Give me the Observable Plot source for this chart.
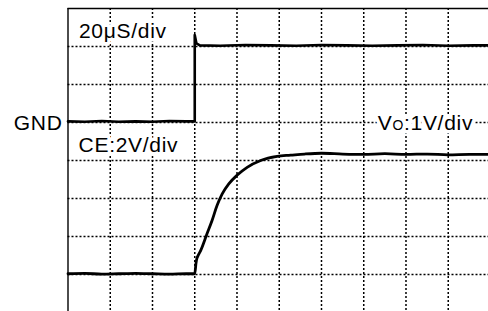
<!DOCTYPE html>
<html><head><meta charset="utf-8">
<script src="https://cdn.jsdelivr.net/npm/d3@7"></script>
<script src="https://cdn.jsdelivr.net/npm/@observablehq/plot@0.6"></script>
<style>html,body{margin:0;padding:0;overflow:hidden;background:#fff;width:488px;height:311px}svg{max-width:none!important}</style>
</head><body><div id="chart"></div>
<script>
// Oscilloscope grid: 10 horizontal divisions (right edge cut off), 8 vertical divisions
const xGrid = [1, 2, 3, 4, 5, 6, 7, 8, 9];
const yGrid = [1, 2, 3, 4, 5, 6, 7];
const xBorder = [0];
const yBorder = [8];

// CE trace (divisions)
const ceTime = [0, 0.4, 0.8, 1.2, 1.6, 2.0, 2.4, 2.8, 2.99, 3.0, 3.0, 3.04, 3.12, 3.6, 4.2, 4.8, 5.4, 6.0, 6.6, 7.2, 7.8, 8.4, 9.0, 9.6, 10];
const ceVolt = [5.03, 5.02, 5.04, 5.02, 5.03, 5.02, 5.04, 5.03, 5.03, 5.03, 7.3, 7.08, 7.03, 7.02, 7.04, 7.03, 7.02, 7.04, 7.03, 7.02, 7.03, 7.04, 7.02, 7.03, 7.03];

// Vo trace (divisions)
const voTime = [0, 0.4, 0.8, 1.2, 1.6, 2.0, 2.4, 2.8, 3.0, 3.03, 3.05, 3.08, 3.14, 3.29, 3.41, 3.53, 3.65, 3.81, 4.0, 4.24, 4.56, 4.95, 5.27, 5.6, 6.0, 6.5, 7.0, 7.5, 8.0, 8.5, 9.0, 9.5, 10];
const voVolt = [1.02, 1.03, 1.01, 1.02, 1.03, 1.02, 1.01, 1.02, 1.02, 1.3, 1.42, 1.5, 1.63, 2.07, 2.42, 2.82, 3.12, 3.39, 3.61, 3.82, 4.0, 4.11, 4.14, 4.17, 4.19, 4.17, 4.16, 4.18, 4.16, 4.17, 4.15, 4.16, 4.16];

// Annotation labels
const labelText = ["20μS/div", "CE:2V/div", "VO:1V/div"];
const labelX = [0.26, 0.25, 7.33];
const labelY = [7.22, 4.22, 4.79];
const gndText = ["GND"];
const gndX = [-0.13];
const gndY = [4.81];

const ce = ceTime.map((t, i) => ({t, v: ceVolt[i]}));
const vo = voTime.map((t, i) => ({t, v: voVolt[i]}));
const labels = labelText.map((s, i) => ({s, x: labelX[i], y: labelY[i]}));
const gnd = gndText.map((s, i) => ({s, x: gndX[i], y: gndY[i]}));

const font = "'Liberation Sans', Arial, Helvetica, sans-serif";

const chart = Plot.plot({
  width: 488,
  height: 311,
  marginLeft: 67.5,
  marginRight: 0,
  marginTop: 8,
  marginBottom: 0,
  x: {domain: [0, 9.953], axis: null},
  y: {domain: [0.026, 8], axis: null},
  style: {background: "white", fontFamily: font, overflow: "visible"},
  marks: [
    Plot.ruleX(xGrid, {stroke: "#000", strokeWidth: 1.5, strokeDasharray: "2,2"}),
    Plot.ruleY(yGrid, {stroke: "#000", strokeWidth: 1.5, strokeDasharray: "2,2"}),
    Plot.ruleX(xBorder, {stroke: "#000", strokeWidth: 1.4}),
    Plot.ruleY(yBorder, {stroke: "#000", strokeWidth: 1.4}),
    Plot.text(labels, {x: "x", y: "y", text: "s", textAnchor: "start", lineAnchor: "bottom",
      fontSize: 21, fill: "#000", stroke: "white", strokeWidth: 7, className: "lbl"}),
    Plot.text(gnd, {x: "x", y: "y", text: "s", textAnchor: "end", lineAnchor: "bottom",
      fontSize: 21, fill: "#000"}),
    Plot.line(ce, {x: "t", y: "v", stroke: "#000", strokeWidth: 2.6, curve: "linear"}),
    Plot.line(vo, {x: "t", y: "v", stroke: "#000", strokeWidth: 2.8, curve: "monotone-x"})
  ]
});

d3.select(chart).selectAll("text").style("letter-spacing", "0.7px");
d3.select(chart).selectAll("text").filter(function() { return d3.select(this).text() === "VO:1V/div"; })
  .each(function() {
    const t = d3.select(this);
    t.text(null);
    t.append("tspan").text("V");
    t.append("tspan").attr("font-size", 14).text("O");
    t.append("tspan").text(":1V/div");
  });

document.getElementById("chart").append(chart);
</script>
</body></html>
